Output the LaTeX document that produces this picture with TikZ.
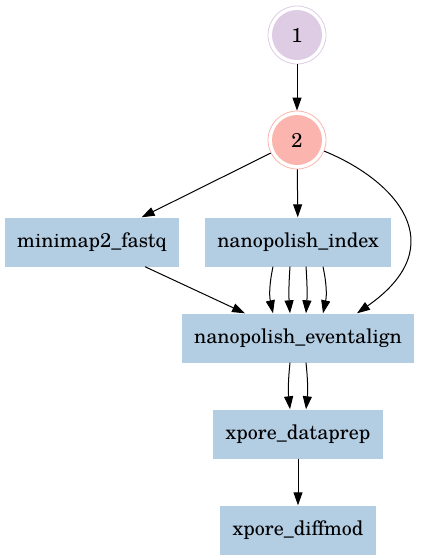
\documentclass[tikz,border=0pt]{standalone}
\usepackage{fontspec}
\setmainfont{TeX Gyre Schola}
\usepackage{xcolor}
\usetikzlibrary{arrows.meta, positioning}
\definecolor{pastelpurple}{HTML}{DECBE4}
\definecolor{pastelred}{HTML}{FBB4AE}
\definecolor{pastelblue}{HTML}{B3CDE3}

\begin{document}
\begin{tikzpicture}[
    x=1pt, y=-1pt,
    every node/.style={font=\fontsize{20}{24}\selectfont},
    job/.style={fill=pastelblue, minimum height=49pt, inner xsep=12.5pt},
    ring/.style={circle, draw=#1, line width=0.8pt, minimum size=58pt, inner sep=0pt,
                 path picture={\fill[#1] (path picture bounding box.center) circle (25pt);}},
    edge/.style={-{Triangle[length=13pt, width=9pt]}, line width=1pt},
  ]
  \useasboundingbox (0,0) rectangle (421,560);

  \node[ring=pastelpurple] (one) at (297,35) {1};
  \node[ring=pastelred]    (two) at (297,140) {2};
  \node[job] (minimap)  at (92,242)  {minimap2\_fastq};
  \node[job] (index)    at (298,242) {nanopolish\_index};
  \node[job] (eventalign) at (298,338) {nanopolish\_eventalign};
  \node[job] (dataprep) at (298,434) {xpore\_dataprep};
  \node[job] (diffmod)  at (298,530) {xpore\_diffmod};

  \draw[edge] (one) -- (two);
  \draw[edge] (two) -- (minimap);
  \draw[edge] (two) -- (index);
  \draw[edge] (two) .. controls (395,180) and (455,245) .. ([xshift=59pt]eventalign.north);
  \draw[edge] (minimap) -- (eventalign);
  \foreach \dx/\b in {-25/-12, -8/-4, 8/4, 25/12}
    \draw[edge] ([xshift=\dx pt]index.south) to[bend left=\b] ([xshift=\dx pt]eventalign.north);
  \foreach \dx/\b in {-8/-6, 8/6}
    \draw[edge] ([xshift=\dx pt]eventalign.south) to[bend left=\b] ([xshift=\dx pt]dataprep.north);
  \draw[edge] (dataprep) -- (diffmod);
\end{tikzpicture}
\end{document}
